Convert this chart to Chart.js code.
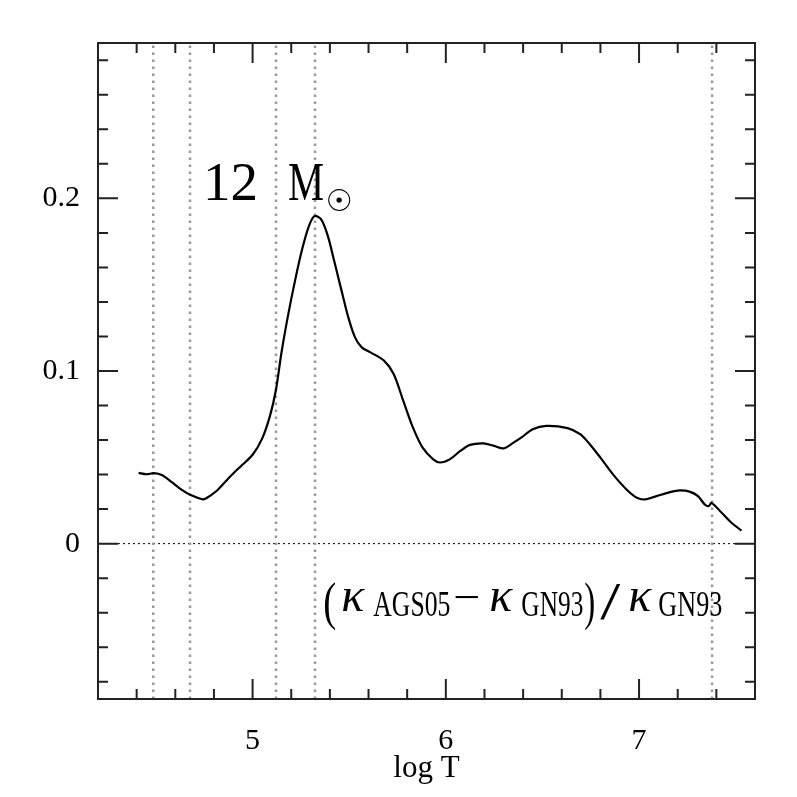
<!DOCTYPE html>
<html><head><meta charset="utf-8">
<script src="https://cdn.jsdelivr.net/npm/chart.js@4"></script>
<style>html,body{margin:0;padding:0;background:#fff}#wrap{width:797px;height:797px}</style>
</head><body><div id="wrap"><canvas id="c" width="797" height="797"></canvas></div>
<script>
// ---- data ----
const logT = [4.41,4.45,4.49,4.53,4.58,4.63,4.68,4.74,4.76,4.81,4.86,4.91,4.94,5.00,5.05,5.09,5.12,5.15,5.185,5.22,5.255,5.29,5.32,5.355,5.39,5.425,5.46,5.495,5.53,5.565,5.61,5.68,5.73,5.78,5.83,5.88,5.935,5.97,6.02,6.075,6.125,6.195,6.25,6.30,6.35,6.39,6.45,6.52,6.63,6.695,6.745,6.80,6.865,6.935,6.99,7.03,7.09,7.16,7.21,7.265,7.305,7.34,7.36,7.375,7.42,7.47,7.53];
const dKappa = [0.0410,0.0402,0.0408,0.0397,0.0358,0.0314,0.0281,0.0257,0.0263,0.0302,0.0360,0.0418,0.0449,0.0515,0.0610,0.0740,0.0886,0.1110,0.1331,0.1525,0.1699,0.1835,0.1897,0.1878,0.1780,0.1625,0.1467,0.1312,0.1195,0.1137,0.1108,0.1060,0.0983,0.0827,0.0672,0.0556,0.0488,0.0470,0.0488,0.0537,0.0572,0.0581,0.0566,0.0552,0.0585,0.0614,0.0663,0.0682,0.0669,0.0634,0.0576,0.0498,0.0401,0.0314,0.0265,0.0256,0.0275,0.0298,0.0308,0.0300,0.0275,0.0227,0.0217,0.0236,0.0188,0.0130,0.0075];
const markerT = [4.486, 4.676, 5.121, 5.323, 7.378];
const xRange = [4.2, 7.6];
const yRange = [-0.09, 0.29];
const xMajorTicks = [5, 6, 7];
const xMinorTicks = [4.4, 4.6, 4.8, 5.2, 5.4, 5.6, 5.8, 6.2, 6.4, 6.6, 6.8, 7.2, 7.4];
const yMajorTicks = [0, 0.1, 0.2];
const yMinorTicks = [-0.08, -0.06, -0.04, -0.02, 0.02, 0.04, 0.06, 0.08, 0.12, 0.14, 0.16, 0.18, 0.22, 0.24, 0.26, 0.28];
const xTitle = 'log T';
const massLabel = ['12', 'M', '☉'];

const SERIF = '"Liberation Serif", "DejaVu Serif", serif';

function drawFit(ctx, text, font, x, y, w) {
  ctx.save();
  ctx.font = font;
  const nat = ctx.measureText(text).width;
  ctx.translate(x, y);
  if (w) ctx.scale(w / nat, 1);
  ctx.fillText(text, 0, 0);
  ctx.restore();
}

const framePlugin = {
  id: 'frame',
  afterDatasetsDraw(chart) {
    const ctx = chart.ctx, a = chart.chartArea;
    const xs = chart.scales.x, ys = chart.scales.y;
    ctx.save();
    ctx.strokeStyle = '#222';
    ctx.lineWidth = 2;
    ctx.beginPath();
    const tick = (vals, len) => {
      vals.forEach(v => {
        const px = xs.getPixelForValue(v);
        ctx.moveTo(px, a.bottom); ctx.lineTo(px, a.bottom - len);
        ctx.moveTo(px, a.top); ctx.lineTo(px, a.top + len);
      });
    };
    const ytick = (vals, len) => {
      vals.forEach(v => {
        const py = ys.getPixelForValue(v);
        ctx.moveTo(a.left, py); ctx.lineTo(a.left + len, py);
        ctx.moveTo(a.right, py); ctx.lineTo(a.right - len, py);
      });
    };
    tick(xMajorTicks, 20); tick(xMinorTicks, 10);
    ytick(yMajorTicks, 20); ytick(yMinorTicks, 10);
    ctx.stroke();
    ctx.strokeRect(a.left, a.top, a.right - a.left, a.bottom - a.top);

    // annotations
    ctx.fillStyle = '#000';
    ctx.textBaseline = 'alphabetic';
    ctx.textAlign = 'left';
    // "12 M☉"
    const mx = xs.getPixelForValue(4.754), my = ys.getPixelForValue(0.199);
    drawFit(ctx, massLabel[0], '54px ' + SERIF, mx - 2, my, 55);
    drawFit(ctx, massLabel[1], '54px ' + SERIF, mx + 83, my, 36);
    ctx.save();
    ctx.font = '30px "DejaVu Sans"';
    ctx.textAlign = 'center'; ctx.textBaseline = 'middle';
    ctx.fillText(massLabel[2], mx + 134, my + 3);
    ctx.restore();

    // formula
    const fx = xs.getPixelForValue(5.366), fy = ys.getPixelForValue(-0.0392);
    const kap = 'italic 48px ' + SERIF, sub = '35px ' + SERIF, big = '52px ' + SERIF;
    drawFit(ctx, '(', big, fx, fy + 8, 13);
    drawFit(ctx, 'κ', kap, fx + 18, fy);
    drawFit(ctx, 'AGS05', sub, fx + 50, fy + 5, 77);
    drawFit(ctx, '−', '42px ' + SERIF, fx + 130, fy, 27);
    drawFit(ctx, 'κ', kap, fx + 166, fy);
    drawFit(ctx, 'GN93', sub, fx + 198, fy + 5, 62);
    drawFit(ctx, ')', big, fx + 261, fy + 8, 11);
    drawFit(ctx, '/', big, fx + 277, fy + 8, 20);
    drawFit(ctx, 'κ', kap, fx + 305, fy);
    drawFit(ctx, 'GN93', sub, fx + 335, fy + 5, 64);
    ctx.restore();
  }
};

const datasets = [
  { data: logT.map((x, i) => ({ x, y: dKappa[i] })), borderColor: '#000', borderWidth: 2.2, pointRadius: 0, tension: 0.3, fill: false },
  ...markerT.map(t => ({ data: [{ x: t, y: yRange[0] }, { x: t, y: yRange[1] }], borderColor: '#999', borderWidth: 2.5, borderDash: [2.5, 4.5], pointRadius: 0, fill: false })),
  { data: [{ x: xRange[0], y: 0 }, { x: xRange[1], y: 0 }], borderColor: '#000', borderWidth: 1, borderDash: [2, 3], pointRadius: 0, fill: false }
];

new Chart(document.getElementById('c'), {
  type: 'line',
  data: { datasets },
  options: {
    responsive: false, animation: false,
    layout: { padding: { left: 0, top: 43, right: 42, bottom: 0 } },
    plugins: { legend: { display: false }, tooltip: { enabled: false } },
    scales: {
      x: {
        type: 'linear', min: xRange[0], max: xRange[1],
        afterBuildTicks: s => { s.ticks = xMajorTicks.map(v => ({ value: v })); },
        afterFit: s => { s.height = 98; },
        grid: { display: false, drawTicks: false }, border: { display: false },
        ticks: { color: '#000', font: { family: SERIF, size: 30 }, padding: 24, maxRotation: 0, callback: v => String(v) },
        title: { display: true, text: xTitle, color: '#000', font: { family: SERIF, size: 31 }, padding: { top: 0, bottom: 10 } }
      },
      y: {
        type: 'linear', min: yRange[0], max: yRange[1],
        afterBuildTicks: s => { s.ticks = yMajorTicks.map(v => ({ value: v })); },
        afterFit: s => { s.width = 98; },
        grid: { display: false, drawTicks: false }, border: { display: false },
        ticks: { color: '#000', font: { family: SERIF, size: 30 }, padding: 18, callback: v => String(v) }
      }
    }
  },
  plugins: [framePlugin]
});
</script></body></html>
